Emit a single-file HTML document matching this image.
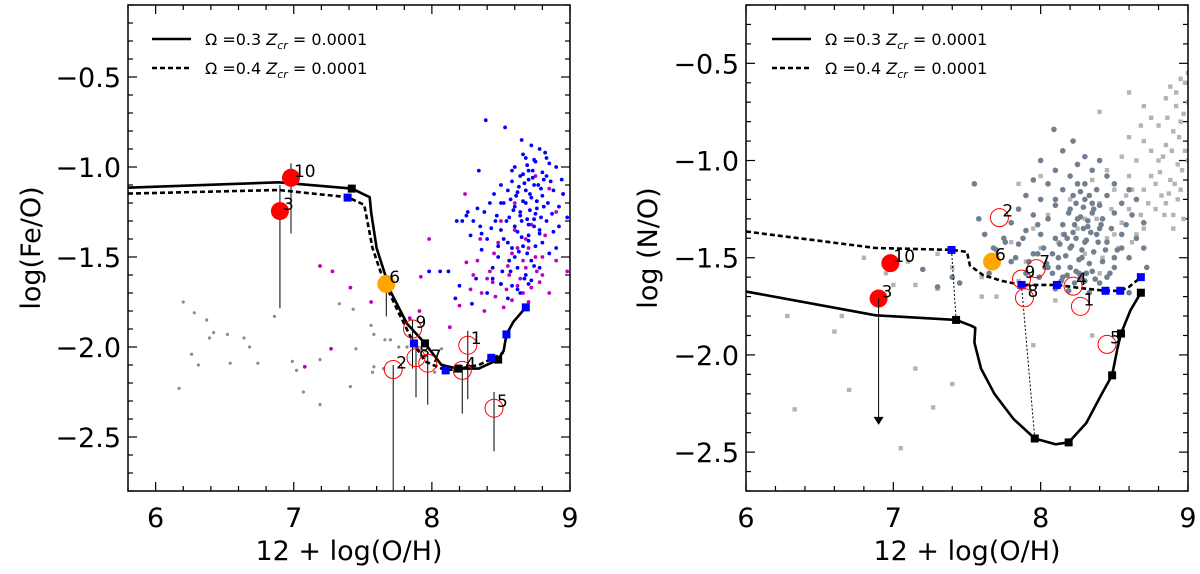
<!DOCTYPE html>
<html><head><meta charset="utf-8">
<style>
html,body{margin:0;padding:0;background:#fff;}
svg{display:block;font-family:"DejaVu Sans","Liberation Sans",sans-serif;}
</style></head>
<body>
<svg id="fig" width="1200" height="574" viewBox="0 0 1200 574" xmlns="http://www.w3.org/2000/svg"></svg>
<script>
// ---------- LEFT PANEL DATA (log Fe/O) ----------
const feSolidX=[5.8,6.89,7.42,7.55,7.56,7.6,7.7,7.82,7.95,8.07,8.19,8.34,8.48,8.52,8.54,8.59,8.68];
const feSolidY=[-1.115,-1.085,-1.12,-1.168,-1.25,-1.45,-1.69,-1.87,-1.98,-2.1,-2.12,-2.12,-2.07,-2.02,-1.93,-1.86,-1.78];
const feDashX=[5.8,6.89,7.39,7.51,7.53,7.57,7.65,7.76,7.87,7.95,8.1,8.2,8.34,8.45,8.52];
const feDashY=[-1.148,-1.128,-1.168,-1.21,-1.29,-1.45,-1.63,-1.81,-1.98,-2.08,-2.13,-2.12,-2.1,-2.06,-2.03];
const feBlackSqX=[7.42,7.95,8.19,8.48];
const feBlackSqY=[-1.12,-1.98,-2.12,-2.07];
const feBlueSqX=[7.39,7.87,8.1,8.43,8.54,8.68];
const feBlueSqY=[-1.17,-1.98,-2.13,-2.06,-1.93,-1.78];
const feGrayX=[6.20,6.28,6.37,6.42,6.39,6.52,6.64,6.68,6.26,6.31,6.54,6.74,6.86,6.99,7.02,7.07,7.19,7.19,7.33,7.43,7.41,7.45,7.56,7.58,7.66,7.70,7.58,7.57,6.17,7.65,7.76,7.82,8.07,8.08,8.02,7.9,7.95];
const feGrayY=[-1.75,-1.81,-1.85,-1.92,-1.95,-1.93,-1.95,-2.0,-2.04,-2.10,-2.09,-2.09,-1.83,-2.08,-2.13,-2.25,-2.07,-2.32,-1.76,-1.79,-2.22,-2.01,-1.88,-1.93,-1.96,-1.96,-2.11,-2.14,-2.23,-2.12,-2.0,-2.0,-2.01,-2.1,-2.14,-2.0,-2.02];
const feMagX=[7.19,7.28,7.41,7.56,7.27,7.08,7.91,7.98,7.92,7.84,8.13,8.25,8.24,8.20,8.75,8.85,8.95,8.6,8.9,8.5,8.72,8.35,8.82,8.62,8.45,8.75,8.9,8.55,8.68,8.3,8.4,8.8,8.5,8.62,8.72,8.36,8.46,8.58,8.7,8.28,8.52,8.38,8.64,8.78,8.85,8.98,8.42,8.33,8.56,8.66,8.48,8.6,8.7,8.8,8.54,8.66,8.76,8.44,8.58,8.68];
const feMagY=[-1.55,-1.58,-1.67,-1.75,-2.01,-2.11,-1.80,-1.40,-1.61,-1.84,-1.89,-1.53,-1.15,-1.77,-1.05,-1.12,-1.15,-1.2,-1.25,-1.3,-1.32,-1.4,-1.38,-1.45,-1.48,-1.5,-1.52,-1.55,-1.56,-1.6,-1.62,-1.6,-1.65,-1.66,-1.67,-1.7,-1.72,-1.74,-1.75,-1.68,-1.78,-1.8,-1.62,-1.64,-1.7,-1.58,-1.58,-1.52,-1.6,-1.7,-1.42,-1.35,-1.45,-1.5,-1.68,-1.52,-1.58,-1.64,-1.48,-1.4];
const feBlueX=[8.39,8.53,8.34,8.18,8.06,8.12,7.98,8.17,8.29,8.98,8.65,8.72,8.78,8.82,8.68,8.75,8.85,8.6,8.7,8.8,8.9,8.64,8.73,8.58,8.67,8.77,8.86,8.94,8.5,8.55,8.62,8.71,8.8,8.88,8.45,8.42,8.52,8.6,8.68,8.76,8.84,8.92,8.38,8.47,8.56,8.65,8.74,8.83,8.3,8.25,8.35,8.5,8.62,8.7,8.78,8.88,8.28,8.4,8.55,8.66,8.8,8.9,8.36,8.48,8.6,8.72,8.85,8.44,8.57,8.68,8.78,8.32,8.5,8.62,8.4,8.55,8.2,8.73,8.69,8.81,8.57,8.64,8.7,8.46,8.95,8.87,8.92,
 8.66,8.7,8.74,8.79,8.83,8.63,8.68,8.72,8.76,8.81,8.61,8.66,8.71,8.75,8.79,8.59,8.64,8.69,8.74,8.78,8.54,8.6,8.65,8.7,8.75,8.52,8.58,8.63,8.69,8.74,8.48,8.56,8.62,8.67,8.72,8.44,8.51,8.58,8.64,8.7,8.26,8.33,8.22,8.36,8.43,8.5,8.58,8.66,8.74,8.83];
const feBlueY=[-0.74,-0.78,-1.02,-1.30,-1.58,-1.58,-1.58,-1.73,-1.76,-1.28,-0.85,-0.88,-0.9,-0.92,-0.95,-0.97,-0.98,-1.0,-1.02,-1.03,-1.0,-1.05,-1.06,-1.08,-1.09,-1.1,-1.08,-1.07,-1.1,-1.13,-1.14,-1.15,-1.16,-1.13,-1.15,-1.2,-1.2,-1.22,-1.2,-1.23,-1.2,-1.22,-1.25,-1.27,-1.28,-1.3,-1.29,-1.3,-1.3,-1.27,-1.33,-1.35,-1.36,-1.38,-1.37,-1.36,-1.38,-1.4,-1.42,-1.44,-1.42,-1.45,-1.46,-1.5,-1.5,-1.52,-1.48,-1.56,-1.58,-1.6,-1.56,-1.62,-1.65,-1.68,-1.7,-1.73,-1.66,-1.02,-0.99,-1.07,-1.18,-1.25,-1.32,-1.3,-1.15,-1.26,-1.33,
 -1.04,-1.07,-1.1,-1.12,-1.05,-1.11,-1.13,-1.17,-1.19,-1.22,-1.16,-1.19,-1.24,-1.26,-1.28,-1.24,-1.27,-1.29,-1.33,-1.35,-1.3,-1.33,-1.39,-1.41,-1.44,-1.4,-1.45,-1.47,-1.48,-1.55,-1.44,-1.52,-1.56,-1.62,-1.63,-1.62,-1.58,-1.66,-1.7,-1.65,-1.25,-1.23,-1.3,-1.37,-1.34,-1.2,-1.02,-0.93,-0.96,-0.95];
const feFilledLabels=["10","3"];
const feFilledX=[6.98,6.90];
const feFilledY=[-1.06,-1.245];
const feFilledErrLo=[-1.37,-1.785];
const feFilledErrHi=[-0.98,-1.1];
const feOrangeX=[7.67]; const feOrangeY=[-1.65]; const feOrangeErrLo=[-1.83]; const feOrangeErrHi=[-1.6];
const feOpenLabels=["9","2","8","7","4","1","5"];
const feOpenX=[7.86,7.72,7.885,7.97,8.22,8.26,8.45];
const feOpenY=[-1.9,-2.125,-2.06,-2.09,-2.13,-1.99,-2.34];
const feOpenErrLo=[-2.12,-2.8,-2.28,-2.32,-2.37,-2.29,-2.58];
const feOpenErrHi=[-1.85,-2.1,-2.0,-2.05,-2.1,-1.91,-2.25];

// ---------- RIGHT PANEL DATA (log N/O) ----------
const noSolidX=[6.0,6.88,7.426,7.53,7.556,7.55,7.595,7.686,7.816,7.96,8.10,8.19,8.31,8.415,8.485,8.52,8.545,8.61,8.68];
const noSolidY=[-1.674,-1.796,-1.82,-1.85,-1.861,-1.936,-2.07,-2.2,-2.33,-2.43,-2.46,-2.45,-2.35,-2.2,-2.105,-1.97,-1.89,-1.77,-1.68];
const noDashX=[6.0,6.88,7.395,7.5,7.52,7.61,7.74,7.87,8.0,8.11,8.26,8.44,8.54,8.6,8.68];
const noDashY=[-1.365,-1.45,-1.46,-1.47,-1.54,-1.59,-1.62,-1.64,-1.64,-1.64,-1.655,-1.67,-1.67,-1.65,-1.6];
const noBlackSqX=[7.426,7.96,8.19,8.485,8.545,8.68];
const noBlackSqY=[-1.82,-2.43,-2.45,-2.105,-1.89,-1.68];
const noBlueSqX=[7.395,7.87,8.11,8.44,8.54,8.68];
const noBlueSqY=[-1.46,-1.64,-1.64,-1.67,-1.67,-1.6];
const noDarkX=[8.09,8.22,8.15,8.3,8.0,8.25,8.4,8.35,8.1,8.2,8.45,7.95,8.05,8.3,8.5,8.15,8.38,7.9,8.22,8.45,8.6,8.0,8.3,8.1,8.4,8.55,7.85,8.2,8.35,8.5,7.95,8.05,8.25,8.42,8.62,7.8,8.15,8.32,8.48,7.9,8.0,8.22,8.38,8.55,7.75,8.1,8.3,8.45,8.65,7.85,8.02,8.2,8.36,8.52,7.7,7.95,8.12,8.28,8.42,8.6,7.8,8.05,8.2,8.35,8.5,8.72,7.9,8.15,8.3,8.45,7.55,7.58,7.4,7.2,7.3,7.45,8.6,8.65,8.7,8.25,8.18,8.4,8.1,8.5,8.35,7.98,8.26,8.7,8.58,
 8.27,8.33,8.24,8.29,8.36,8.19,8.27,8.32,8.41,8.23,8.29,8.34,8.16,8.24,8.31,8.39,8.13,8.21,8.28,8.44,8.08,8.17,8.26,8.33,8.04,8.12,8.24,8.31,8.47,7.98,8.08,8.18,8.27,8.37,7.92,8.03,8.14,8.23,8.4,7.88,7.99,8.1,8.19,8.33,8.55,7.83,7.76,7.68,7.65,7.62];
const noDarkY=[-0.84,-0.9,-0.95,-0.98,-1.0,-1.02,-1.0,-1.05,-1.05,-1.08,-1.08,-1.1,-1.12,-1.12,-1.12,-1.15,-1.15,-1.18,-1.18,-1.18,-1.15,-1.2,-1.2,-1.23,-1.23,-1.22,-1.25,-1.25,-1.27,-1.27,-1.28,-1.3,-1.3,-1.3,-1.28,-1.32,-1.33,-1.34,-1.35,-1.36,-1.38,-1.37,-1.38,-1.38,-1.4,-1.4,-1.42,-1.42,-1.4,-1.43,-1.45,-1.45,-1.47,-1.46,-1.46,-1.48,-1.5,-1.5,-1.52,-1.5,-1.52,-1.55,-1.55,-1.57,-1.55,-1.55,-1.58,-1.6,-1.62,-1.6,-1.12,-1.3,-1.6,-1.56,-1.65,-1.63,-1.68,-1.2,-1.32,-1.12,-1.4,-1.35,-1.2,-1.5,-1.22,-1.33,-1.58,-1.45,-1.33,
 -1.16,-1.18,-1.22,-1.24,-1.25,-1.27,-1.29,-1.31,-1.33,-1.33,-1.35,-1.37,-1.38,-1.4,-1.41,-1.42,-1.43,-1.44,-1.46,-1.46,-1.48,-1.49,-1.51,-1.53,-1.53,-1.55,-1.57,-1.58,-1.58,-1.48,-1.58,-1.59,-1.6,-1.61,-1.52,-1.55,-1.62,-1.63,-1.63,-1.4,-1.6,-1.66,-1.67,-1.68,-1.45,-1.5,-1.42,-1.45,-1.58,-1.38];
const noLightX=[9.0,8.95,8.88,8.92,8.85,8.7,8.75,8.8,8.95,8.9,8.6,8.7,8.85,8.98,8.55,8.8,8.65,8.93,8.45,8.6,8.75,8.88,8.35,8.5,8.7,8.82,8.95,8.2,8.4,8.6,8.78,8.9,8.05,8.3,8.55,8.7,7.95,8.15,8.45,8.62,7.8,8.0,8.3,8.5,7.7,7.9,8.2,8.4,7.4,7.6,7.85,7.3,7.1,6.95,6.8,7.0,7.15,7.3,7.6,7.7,6.65,6.28,6.6,7.4,7.15,6.7,6.33,7.27,7.05,7.95,8.1,9.0,9.0,8.98,8.4,8.6,7.85,8.0,8.35,
 8.97,8.92,8.86,8.94,8.89,8.83,8.96,8.91,8.87,8.78,8.93,8.84,8.73,8.97,8.9,8.68,8.81,8.58,8.48,8.38,8.25,8.12,8.65,8.53,8.42,8.75,8.68,8.85,8.62,8.5];
const noLightY=[-0.55,-0.58,-0.62,-0.65,-0.68,-0.72,-0.78,-0.82,-0.8,-0.85,-0.88,-0.9,-0.92,-0.95,-0.98,-1.0,-1.0,-1.02,-1.05,-1.08,-1.08,-1.1,-1.1,-1.15,-1.15,-1.18,-1.15,-1.2,-1.22,-1.25,-1.25,-1.28,-1.28,-1.3,-1.32,-1.35,-1.35,-1.38,-1.4,-1.42,-1.42,-1.45,-1.48,-1.5,-1.5,-1.52,-1.55,-1.58,-1.55,-1.6,-1.62,-1.48,-1.52,-1.58,-1.5,-1.64,-1.64,-1.66,-1.7,-1.7,-1.8,-1.8,-1.88,-2.15,-2.07,-2.18,-2.28,-2.27,-2.48,-1.95,-1.72,-0.7,-1.0,-0.6,-0.75,-0.65,-1.12,-1.08,-1.9,
 -0.76,-0.72,-0.78,-0.88,-0.95,-0.98,-1.05,-1.12,-1.17,-1.12,-1.2,-1.28,-1.22,-1.3,-1.35,-1.28,-1.06,-1.18,-1.25,-1.3,-1.35,-1.42,-1.38,-1.45,-1.5,-0.95,-0.82,-1.22,-1.15,-1.38];
const noFilledLabels=["10","3"];
const noFilledX=[6.98,6.90];
const noFilledY=[-1.528,-1.71];
const noArrowTo=[null,-2.36];
const noOrangeX=[7.67]; const noOrangeY=[-1.52];
const noOpenLabels=["2","7","9","8","4","1","5"];
const noOpenX=[7.72,7.97,7.87,7.89,8.22,8.27,8.45];
const noOpenY=[-1.294,-1.556,-1.61,-1.706,-1.646,-1.75,-1.946];

// ---------- AXES ----------
const xTicks=[6,7,8,9];
const feYTicks=[-0.5,-1.0,-1.5,-2.0,-2.5];
const noYTicks=[-0.5,-1.0,-1.5,-2.0,-2.5];

const NS="http://www.w3.org/2000/svg";
const svg=document.getElementById('fig');
function mk(tag,attrs,parent){const e=document.createElementNS(NS,tag);for(const k in attrs)e.setAttribute(k,attrs[k]);(parent||svg).appendChild(e);return e;}
function fmt(v){return (v<0?"\u2212":"")+Math.abs(v).toFixed(1);}

function panel(cfg){
  const g=mk('g',{});
  
  
  const X=v=>cfg.L+(v-cfg.x0)/(cfg.x1-cfg.x0)*(cfg.R-cfg.L);
  const Y=v=>cfg.T+(cfg.y1-v)/(cfg.y1-cfg.y0)*(cfg.B-cfg.T);
  cfg.X=X;cfg.Y=Y;cfg.g=g;
  const tg=mk('g',{stroke:'#000','stroke-width':1.2},g);
  
  
  for(let k=Math.ceil(cfg.x0*5-1e-6);k<=Math.floor(cfg.x1*5+1e-6);k++){
    const v=k/5,px=X(v),maj=Math.abs(v-Math.round(v))<1e-6,len=maj?9:5;
    mk('line',{x1:px,x2:px,y1:cfg.B,y2:cfg.B-len},tg);
    mk('line',{x1:px,x2:px,y1:cfg.T,y2:cfg.T+len},tg);
  }
  for(let k=Math.ceil(cfg.y0*10-1e-6);k<=Math.floor(cfg.y1*10+1e-6);k++){
    const v=k/10,py=Y(v),maj=Math.abs(v*2-Math.round(v*2))<1e-6,len=maj?9:5;
    mk('line',{x1:cfg.L,x2:cfg.L+len,y1:py,y2:py},tg);
    mk('line',{x1:cfg.R,x2:cfg.R-len,y1:py,y2:py},tg);
  }
  xTicks.forEach(v=>{
    const t=mk('text',{x:X(v),y:cfg.B+36,'text-anchor':'middle','font-size':27},g);
    t.textContent=v;
    
    
  });
  cfg.yTicks.forEach(v=>{
    const t=mk('text',{x:cfg.L-7,y:Y(v)+10,'text-anchor':'end','font-size':27},g);
    t.textContent=fmt(v);
    
    
  });
  const xt=mk('text',{x:(cfg.L+cfg.R)/2,y:560,'text-anchor':'middle','font-size':27},g);
  xt.textContent='12 + log(O/H)';
  
  
  const yt=mk('text',{x:cfg.ylabX,y:(cfg.T+cfg.B)/2,'text-anchor':'middle','font-size':27,transform:`rotate(-90 ${cfg.ylabX} ${(cfg.T+cfg.B)/2})`},g);
  yt.textContent=cfg.ylab;
  
  
  const cp=mk('clipPath',{id:cfg.name+'-clip'},g);
  mk('rect',{x:cfg.L,y:cfg.T,width:cfg.R-cfg.L,height:cfg.B-cfg.T},cp);
  const pg=mk('g',{'clip-path':`url(#${cfg.name}-clip)`},g);
  
  
  cfg.pg=pg;
  return cfg;
}
function dots(cfg,xs,ys,fill,r,name,square){
  const gg=mk('g',{fill:fill},cfg.pg);
  
  
  xs.forEach((v,i)=>{
    if(square){mk('rect',{x:cfg.X(v)-r,y:cfg.Y(ys[i])-r,width:2*r,height:2*r},gg);}
    else mk('circle',{cx:cfg.X(v),cy:cfg.Y(ys[i]),r:r},gg);
  });
}
function curve(cfg,xs,ys,dash,name){
  const d=xs.map((v,i)=>(i?'L':'M')+cfg.X(v).toFixed(1)+','+cfg.Y(ys[i]).toFixed(1)).join(' ');
  const p=mk('path',{d:d,fill:'none',stroke:'#000','stroke-width':2.6,'stroke-dasharray':dash||'none','stroke-linejoin':'round'},cfg.pg);
  
  
}
function squares(cfg,xs,ys,fill,name){
  const gg=mk('g',{fill:fill},cfg.pg);
  
  
  xs.forEach((v,i)=>mk('rect',{x:cfg.X(v)-4,y:cfg.Y(ys[i])-4,width:8,height:8},gg));
}
function errbars(cfg,xs,lo,hi,name){
  const gg=mk('g',{stroke:'#000','stroke-width':1},cfg.pg);
  
  
  xs.forEach((v,i)=>mk('line',{x1:cfg.X(v),x2:cfg.X(v),y1:cfg.Y(lo[i]),y2:cfg.Y(hi[i])},gg));
}
function markers(cfg,xs,ys,labels,kind,name){
  const gg=mk('g',{},cfg.pg);
  
  
  xs.forEach((v,i)=>{
    const cx=cfg.X(v),cy=cfg.Y(ys[i]);
    let c;
    if(kind==='open') c=mk('circle',{cx:cx,cy:cy,r:9,fill:'none',stroke:'#ff0000','stroke-width':1},gg);
    else c=mk('circle',{cx:cx,cy:cy,r:9,fill:kind},gg);
    
    
    if(labels){
      const t=mk('text',{x:cx+3,y:cy-1,'font-size':17,fill:'#000'},gg);
      t.textContent=labels[i];
      
      
    }
  });
}
function frame(cfg){
  const r=mk('rect',{x:cfg.L,y:cfg.T,width:cfg.R-cfg.L,height:cfg.B-cfg.T,fill:'none',stroke:'#000','stroke-width':1.5},cfg.g);
  
  
}
function legend(cfg,lx){
  const lg=mk('g',{},cfg.g);
  
  
  [['none',0.3,39],['5,3',0.4,68]].forEach(([dash,om,y])=>{
    const e=mk('g',{},lg);
    
    
    mk('line',{x1:lx,x2:lx+39,y1:y,y2:y,stroke:'#000','stroke-width':2.6,'stroke-dasharray':dash},e);
    const t=mk('text',{x:lx+53,y:y+6,'font-size':16},e);
    t.innerHTML=`\u03A9 =${om} <tspan font-style="italic">Z</tspan><tspan font-style="italic" font-size="11" dy="4">cr</tspan><tspan dy="-4"> = 0.0001</tspan>`;
  });
}

// Left panel
const A=panel({name:'fe-o-panel',L:128,R:570,T:5,B:491,x0:5.8,x1:9,y0:-2.8,y1:-0.1,yTicks:feYTicks,ylab:'log(Fe/O)',ylabX:40});
dots(A,feGrayX,feGrayY,'#8c8c8c',1.6,'gray-points');
dots(A,feMagX,feMagY,'#c000c0',1.9,'magenta-points');
dots(A,feBlueX,feBlueY,'#0000ff',1.9,'blue-points');
errbars(A,feFilledX,feFilledErrLo,feFilledErrHi,'filled-errorbars');
errbars(A,feOrangeX,feOrangeErrLo,feOrangeErrHi,'orange-errorbars');
errbars(A,feOpenX,feOpenErrLo,feOpenErrHi,'open-errorbars');
curve(A,feSolidX,feSolidY,null,'solid-model-curve');
curve(A,feDashX,feDashY,'5,3','dashed-model-curve');
squares(A,feBlackSqX,feBlackSqY,'#000','black-squares');
squares(A,feBlueSqX,feBlueSqY,'#0000ff','blue-squares');
markers(A,feOpenX,feOpenY,feOpenLabels,'open','open-circles');
markers(A,feOrangeX,feOrangeY,['6'],'#ffa500','orange-circle');
markers(A,feFilledX,feFilledY,feFilledLabels,'#ff0000','red-circles');
frame(A); legend(A,152);

// Right panel
const B=panel({name:'n-o-panel',L:746,R:1188,T:5,B:491,x0:6,x1:9,y0:-2.7,y1:-0.2,yTicks:noYTicks,ylab:'log (N/O)',ylabX:657});
dots(B,noLightX,noLightY,'#b4b4b4',2.2,'light-gray-points',true);
dots(B,noDarkX,noDarkY,'#708090',2.8,'slate-points');
{
  const gg=mk('g',{stroke:'#000','stroke-width':1,'stroke-dasharray':'2,2'},B.pg);
  
  
  mk('line',{x1:B.X(noBlueSqX[0]),y1:B.Y(noBlueSqY[0]),x2:B.X(noBlackSqX[0]),y2:B.Y(noBlackSqY[0])},gg);
  mk('line',{x1:B.X(noBlueSqX[1]),y1:B.Y(noBlueSqY[1]),x2:B.X(noBlackSqX[1]),y2:B.Y(noBlackSqY[1])},gg);
}
curve(B,noSolidX,noSolidY,null,'solid-model-curve');
curve(B,noDashX,noDashY,'5,3','dashed-model-curve');
squares(B,noBlackSqX,noBlackSqY,'#000','black-squares');
squares(B,noBlueSqX,noBlueSqY,'#0000ff','blue-squares');
markers(B,noOpenX,noOpenY,noOpenLabels,'open','open-circles');
markers(B,noOrangeX,noOrangeY,['6'],'#ffa500','orange-circle');
markers(B,noFilledX,noFilledY,noFilledLabels,'#ff0000','red-circles');
noFilledX.forEach((v,i)=>{
  if(noArrowTo[i]===null)return;
  const x=B.X(v),y0=B.Y(noFilledY[i]),y1=B.Y(noArrowTo[i]);
  const a=mk('g',{},B.pg);
  
  
  mk('line',{x1:x,x2:x,y1:y0,y2:y1-6,stroke:'#000','stroke-width':1},a);
  mk('path',{d:`M${x-5},${y1-8} L${x+5},${y1-8} L${x},${y1} Z`,fill:'#000'},a);
});
frame(B); legend(B,772);
</script>
</body></html>
